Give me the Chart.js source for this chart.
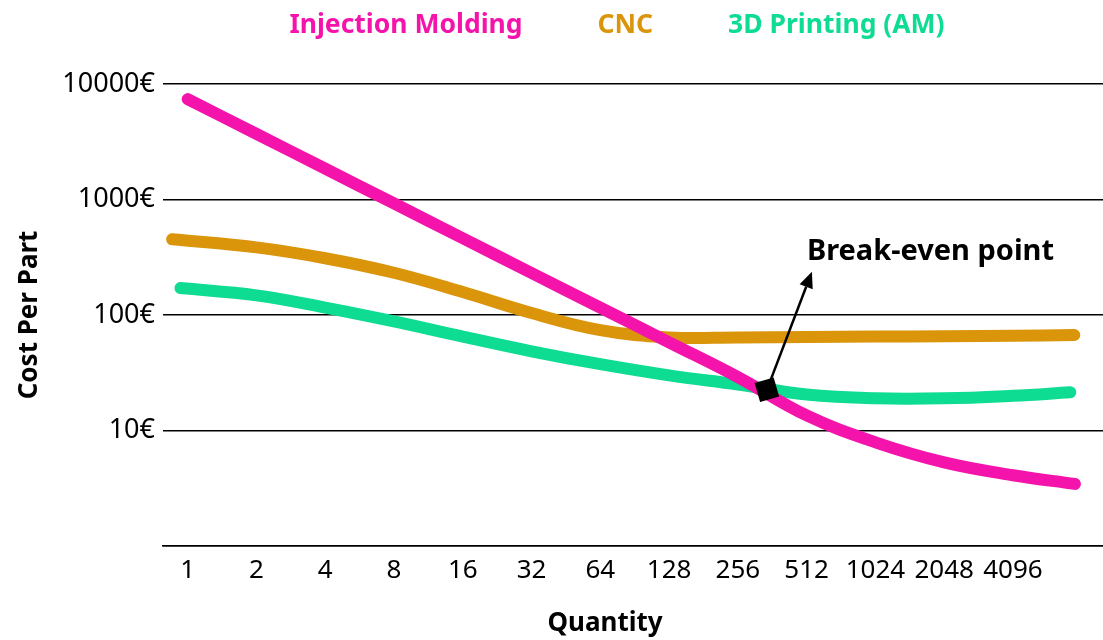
<!DOCTYPE html>
<html>
<head>
<meta charset="utf-8">
<script src="https://cdn.jsdelivr.net/npm/chart.js@4.4.1/dist/chart.umd.min.js"></script>
<style>
  html, body { margin: 0; padding: 0; background: #fff; overflow: hidden; }
  #wrap { width: 1103px; height: 640px; position: relative; }
  #wrap canvas { display: block; }
</style>
</head>
<body>
<div id="wrap"><canvas id="costChart"></canvas></div>
<script>
// ---- values ----
const qtyTicks  = [1, 2, 4, 8, 16, 32, 64, 128, 256, 512, 1024, 2048, 4096];
const costTicks = [1, 10, 100, 1000, 10000];

const moldingQty  = [1, 2, 4, 8, 16, 32, 64, 128, 256, 512, 1024, 2048, 4096, 7650];
const moldingCost = [7400, 3700, 1850, 925, 462, 231, 116, 58, 29, 13.5, 7.9, 5.3, 4.1, 3.45];

const cncQty  = [0.855, 2, 4, 8, 16, 32, 64, 128, 256, 512, 1024, 2048, 4096, 7600];
const cncCost = [452, 385, 310, 232, 158, 104, 74, 64, 64, 64.5, 65, 65.5, 66, 67];

const amQty  = [0.93, 2, 4, 8, 16, 32, 64, 128, 256, 512, 1024, 2048, 4096, 7300];
const amCost = [171, 148, 116, 88, 65, 48.5, 37.5, 30, 25, 20.5, 19, 19, 20, 21.4];

const breakEvenQty  = [343];
const breakEvenCost = [22.5];

const seriesNames  = ['Injection Molding', 'CNC', '3D Printing (AM)'];
const seriesColors = ['#F414AC', '#DA950A', '#0EDC92'];

function toPoints(xs, ys) {
  return xs.map((q, i) => ({ x: q, y: ys[i] }));
}

Chart.defaults.font.family = '"Noto Sans", sans-serif';
Chart.defaults.color = '#000';

// legend row, arrow + label, x title
const extras = {
  id: 'extras',
  afterDraw(chart) {
    const { ctx, chartArea, scales: { x, y } } = chart;
    ctx.save();

    // legend
    ctx.font = 'bold 26.5px "Noto Sans"';
    ctx.textBaseline = 'middle';
    ctx.textAlign = 'left';
    const gap = 75;
    const widths = seriesNames.map(n => ctx.measureText(n).width);
    const total = widths.reduce((a, b) => a + b, 0) + gap * (seriesNames.length - 1);
    let lx = 617 - total / 2;
    seriesNames.forEach((n, i) => {
      ctx.fillStyle = seriesColors[i];
      ctx.fillText(n, lx, 25);
      lx += widths[i] + gap;
    });

    // break-even arrow
    const px = x.getPixelForValue(breakEvenQty[0]);
    const py = y.getPixelForValue(breakEvenCost[0]);
    const tx = px + 45, ty = py - 118;
    const ang = Math.atan2(ty - py, tx - px);
    const headLen = 16, headW = 7;
    const bx = tx - headLen * Math.cos(ang), by = ty - headLen * Math.sin(ang);
    ctx.strokeStyle = '#000';
    ctx.lineWidth = 2.5;
    ctx.beginPath();
    ctx.moveTo(px, py);
    ctx.lineTo(bx, by);
    ctx.stroke();
    ctx.fillStyle = '#000';
    ctx.beginPath();
    ctx.moveTo(tx, ty);
    ctx.lineTo(bx + headW * Math.sin(ang), by - headW * Math.cos(ang));
    ctx.lineTo(bx - headW * Math.sin(ang), by + headW * Math.cos(ang));
    ctx.closePath();
    ctx.fill();

    ctx.font = 'bold 29px "Noto Sans"';
    ctx.fillText('Break-even point', px + 40, py - 138);

    // x axis title
    ctx.textAlign = 'center';
    ctx.font = 'bold 26px "Noto Sans"';
    ctx.fillText('Quantity', (chartArea.left + chartArea.right) / 2 - 28, 624);

    ctx.restore();
  }
};

const lineStyle = {
  borderWidth: 12,
  borderCapStyle: 'round',
  borderJoinStyle: 'round',
  pointRadius: 0,
  fill: false,
  tension: 0.4
};

new Chart(document.getElementById('costChart'), {
  type: 'line',
  data: {
    datasets: [
      { label: seriesNames[0], data: toPoints(moldingQty, moldingCost), borderColor: seriesColors[0], ...lineStyle },
      { label: seriesNames[1], data: toPoints(cncQty, cncCost), borderColor: seriesColors[1], ...lineStyle },
      { label: seriesNames[2], data: toPoints(amQty, amCost), borderColor: seriesColors[2], ...lineStyle },
      {
        type: 'scatter',
        label: 'Break-even point',
        data: toPoints(breakEvenQty, breakEvenCost),
        pointStyle: 'rect',
        pointRadius: 14,
        rotation: -16,
        backgroundColor: '#000',
        borderColor: '#000',
        borderWidth: 0,
        order: -1
      }
    ]
  },
  options: {
    responsive: true,
    maintainAspectRatio: false,
    animation: false,
    layout: { autoPadding: false, padding: { top: 84, right: 0, bottom: 0, left: 0 } },
    plugins: {
      legend: { display: false },
      tooltip: { enabled: false }
    },
    scales: {
      x: {
        type: 'logarithmic',
        min: 0.78,
        max: 10150,
        afterBuildTicks: s => { s.ticks = qtyTicks.map(v => ({ value: v })); },
        afterFit: s => { s.height = 94; },
        grid: { display: false, drawTicks: false },
        border: { display: true, color: '#000', width: 1.5 },
        ticks: {
          autoSkip: false,
          maxRotation: 0,
          padding: 9,
          font: { size: 26 },
          color: '#000',
          callback: v => String(v)
        }
      },
      y: {
        type: 'logarithmic',
        min: 1,
        max: 10000,
        afterBuildTicks: s => { s.ticks = costTicks.map(v => ({ value: v })); },
        afterFit: s => { s.width = 163; },
        grid: { color: '#000', lineWidth: 1.4, drawTicks: false },
        border: { display: false },
        ticks: {
          padding: 8,
          font: { size: 27 },
          color: '#000',
          callback: v => (v === 1 ? '' : v + '€')
        },
        title: {
          display: true,
          text: 'Cost Per Part',
          font: { size: 26, weight: 'bold' },
          color: '#000',
          padding: { top: 14, bottom: 0 }
        }
      }
    }
  },
  plugins: [extras]
});
</script>
</body>
</html>
